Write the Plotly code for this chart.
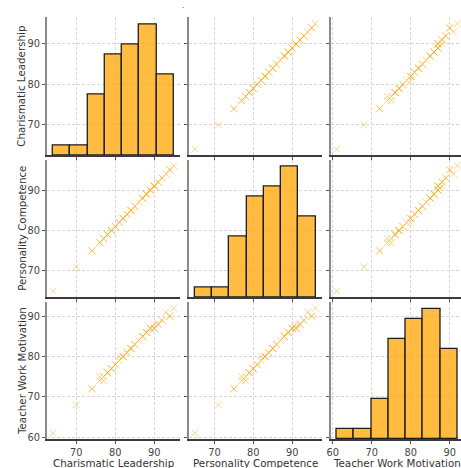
import numpy as np
import plotly.graph_objects as go

# ---------------- data ----------------
variables = ["Charismatic Leadership", "Personality Competence", "Teacher Work Motivation"]
charismatic_leadership = [64, 70, 74, 74, 76, 76, 77, 77, 78, 78, 78, 79, 79, 79, 80, 80, 81, 81,
                          82, 82, 82, 83, 83, 84, 84, 84, 85, 85, 86, 87, 87, 87, 88, 88, 88,
                          89, 89, 89, 90, 90, 90, 90, 91, 91, 92, 92, 93, 94, 94, 95]
personality_competence = [65, 71, 75, 75, 77, 77, 78, 78, 79, 79, 79, 80, 80, 80, 81, 81, 82, 82,
                          83, 83, 83, 84, 84, 85, 85, 85, 86, 86, 87, 88, 88, 88, 89, 89, 89,
                          90, 90, 90, 91, 91, 91, 91, 92, 92, 93, 93, 94, 95, 95, 96]
teacher_work_motivation = [61, 68, 72, 72, 74, 75, 74, 75, 76, 76, 76, 77, 77, 77, 78, 78, 79, 80,
                           80, 80, 80, 81, 81, 82, 82, 82, 83, 83, 84, 85, 85, 85, 86, 86, 86,
                           87, 87, 87, 87, 87, 87, 88, 88, 88, 89, 89, 91, 90, 90, 92]
n_bins = 7

data = [charismatic_leadership, personality_competence, teacher_work_motivation]

# ---------------- layout geometry ----------------
W, H = 461, 468
col_px = [(43.3, 177.3), (186.6, 320.3), (329.5, 463.5)]
row_px = [(17.6, 156.4), (160.6, 299.4), (303.9, 442.2)]

FONT = "DejaVu Sans"
MARK = "rgba(255,165,0,0.45)"
BAR = "rgba(255,165,0,0.75)"
GRID = "#d6d6d6"
TICKFONT = dict(family=FONT, size=9.8, color="#444")


def data_range(v):
    lo, hi = min(v), max(v)
    m = 0.05 * (hi - lo)
    return lo - m, hi + m


fig = go.Figure()
layout = {}
hist_traces = []

for r in range(3):
    for c in range(3):
        k = r * 3 + c + 1
        xs = "" if k == 1 else str(k)
        xlo, xhi = data_range(data[c])
        ylo, yhi = data_range(data[r])
        left, right = col_px[c]
        if right > W:
            xhi = xlo + (xhi - xlo) * (W - left) / (right - left)
            right = W
        top, bot = row_px[r]
        xdom = [left / W, right / W]
        ydom = [1 - bot / H, 1 - top / H]

        layout["xaxis" + xs] = dict(
            domain=xdom, anchor="y" + xs, range=[xlo, xhi], dtick=10,
            showgrid=True, gridcolor=GRID, griddash="3px,2px", gridwidth=0.8,
            zeroline=False, showline=True, linecolor="#3a3a3a", linewidth=1.6,
            ticks="outside", ticklen=3, tickcolor="#555", tickwidth=1,
            showticklabels=(r == 2), tickfont=TICKFONT,
        )
        layout["yaxis" + xs] = dict(
            domain=ydom, anchor="x" + xs, range=[ylo, yhi], dtick=10,
            showgrid=True, gridcolor=GRID, griddash="3px,2px", gridwidth=0.8,
            zeroline=False, showline=True, linecolor="#8a8a8a", linewidth=2,
            ticks="outside", ticklen=3, tickcolor="#555", tickwidth=1,
            showticklabels=(c == 0), tickfont=TICKFONT,
        )

        if r == c:
            # empty trace so the main (grid / ticks) subplot exists
            fig.add_trace(go.Scatter(x=[None], y=[None], mode="markers",
                                     xaxis="x" + xs, yaxis="y" + xs,
                                     showlegend=False, hoverinfo="skip"))
            counts, edges = np.histogram(data[c], bins=n_bins)
            centers = (edges[:-1] + edges[1:]) / 2
            hk = str(10 + r)
            layout["yaxis" + hk] = dict(
                overlaying="y" + xs, anchor="x" + xs,
                range=[0, counts.max() * 1.05], visible=False, showgrid=False,
                zeroline=False,
            )
            hist_traces.append(go.Bar(
                x=centers, y=counts, width=edges[1] - edges[0],
                marker=dict(color=BAR, line=dict(color="#1e1e1e", width=1.3)),
                xaxis="x" + xs, yaxis="y" + hk, showlegend=False,
            ))
        else:
            fig.add_trace(go.Scatter(
                x=data[c], y=data[r], mode="markers",
                marker=dict(symbol="x-thin", size=7, color=MARK,
                            line=dict(color=MARK, width=1.0)),
                xaxis="x" + xs, yaxis="y" + xs, showlegend=False,
            ))

for t in hist_traces:
    fig.add_trace(t)

annotations = []
for c in range(3):
    left, right = col_px[c]
    annotations.append(dict(
        text=variables[c], xref="paper", yref="paper",
        x=(left + right) / 2 / W, y=1 - 466 / H, xanchor="center", yanchor="middle",
        showarrow=False, font=dict(family=FONT, size=10.3, color="#333"),
    ))
for r in range(3):
    top, bot = row_px[r]
    annotations.append(dict(
        text=variables[r], xref="paper", yref="paper",
        x=17.5 / W, y=1 - (top + bot) / 2 / H, xanchor="center", yanchor="middle",
        textangle=-90, showarrow=False, font=dict(family=FONT, size=10.3, color="#333"),
    ))
annotations.append(dict(
    text=".", xref="paper", yref="paper", x=181 / W, y=1 - 6 / H,
    xanchor="center", yanchor="middle", showarrow=False,
    font=dict(family=FONT, size=7, color="#333"),
))

fig.update_layout(
    width=W, height=H, margin=dict(l=0, r=0, t=0, b=0),
    paper_bgcolor="white", plot_bgcolor="white",
    annotations=annotations, showlegend=False, bargap=0,
    **layout,
)

fig.write_html("out.html", config={"displayModeBar": False},
               post_script="document.body.style.margin='0px';document.body.style.overflow='hidden';")
